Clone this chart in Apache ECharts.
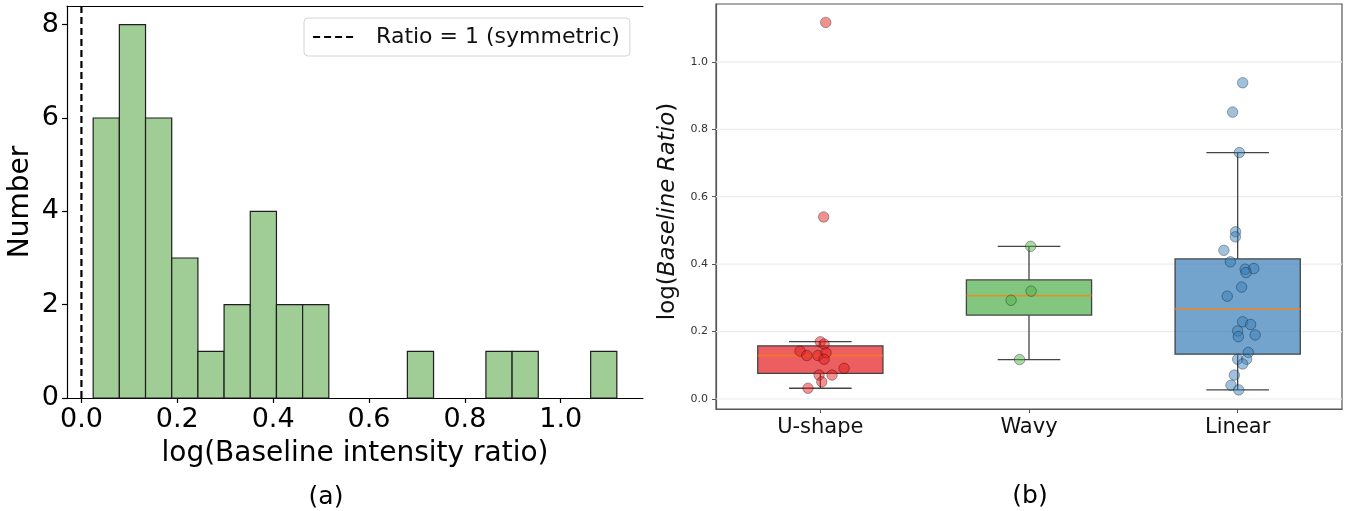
<!DOCTYPE html>
<html>
<head>
<meta charset="utf-8">
<script src="https://cdn.jsdelivr.net/npm/echarts@6/dist/echarts.min.js"></script>
<style>
  html, body { margin: 0; padding: 0; background: #fff; }
  #chart { width: 1348px; height: 511px; }
</style>
</head>
<body>
<div id="chart"></div>
<script>
// ---- Panel (a): histogram of log(Baseline intensity ratio) ----
const histCounts = [6, 8, 6, 3, 1, 2, 4, 2, 2, 0, 0, 0, 1, 0, 0, 1, 1, 0, 0, 1];
const histRange = [0.0245, 1.117];          // first and last bin edge
const histXTicks = [0, 0.2, 0.4, 0.6, 0.8, 1.0];
const histYTicks = [0, 2, 4, 6, 8];
const symmetricLog = 0;                      // log(1) reference line
const legendLabel = 'Ratio = 1 (symmetric)';

// ---- Panel (b): log(Baseline Ratio) per pattern group ----
const groups = ['U-shape', 'Wavy', 'Linear'];
const uShapeValues = [0.170, 0.163, 0.142, 0.129, 0.129, 0.137, 0.118, 0.091, 0.071, 0.071, 0.051, 0.032, 0.540, 1.117];
const uShapeJitter = [0.000, 0.018, -0.097, -0.065, -0.012, 0.027, 0.018, 0.114, -0.006, 0.056, 0.007, -0.059, 0.016, 0.026];
const wavyValues = [0.453, 0.320, 0.293, 0.117];
const wavyJitter = [0.008, 0.010, -0.086, -0.045];
const linearValues = [0.938, 0.851, 0.731, 0.496, 0.481, 0.441, 0.407, 0.385, 0.387, 0.375, 0.332, 0.305,
                      0.229, 0.221, 0.202, 0.185, 0.190, 0.138, 0.118, 0.118, 0.104, 0.071, 0.041, 0.027];
const linearJitter = [0.024, -0.024, 0.008, -0.010, -0.011, -0.066, -0.035, 0.036, 0.077, 0.040, 0.019, -0.050,
                      0.024, 0.062, 0.000, 0.003, 0.084, 0.051, 0.000, 0.043, 0.024, -0.016, -0.032, 0.005];
const boxYTicks = [0, 0.2, 0.4, 0.6, 0.8, 1.0];

const FONT = 'DejaVu Sans';
const groupValues = [uShapeValues, wavyValues, linearValues];
const groupJitter = [uShapeJitter, wavyJitter, linearJitter];
const boxFill = ['rgba(228,26,28,0.7)', 'rgba(77,175,74,0.7)', 'rgba(55,126,184,0.7)'];
const dotFill = ['rgba(228,26,28,0.6)', 'rgba(77,175,74,0.6)', 'rgba(55,126,184,0.6)'];

// linear-interpolated quantile on sorted data
function quantile(sorted, p) {
  const pos = (sorted.length - 1) * p;
  const lo = Math.floor(pos), hi = Math.ceil(pos);
  return sorted[lo] + (sorted[hi] - sorted[lo]) * (pos - lo);
}
// [q1, median, q3, lower whisker, upper whisker] with 1.5*IQR whiskers
function boxStats(values) {
  const s = values.slice().sort((a, b) => a - b);
  const q1 = quantile(s, 0.25), med = quantile(s, 0.5), q3 = quantile(s, 0.75);
  const iqr = q3 - q1;
  const lo = s.find(v => v >= q1 - 1.5 * iqr);
  const hi = s.filter(v => v <= q3 + 1.5 * iqr).pop();
  return [q1, med, q3, lo, hi];
}

const binWidth = (histRange[1] - histRange[0]) / histCounts.length;
const histBins = histCounts
  .map((c, i) => [histRange[0] + i * binWidth, histRange[0] + (i + 1) * binWidth, c])
  .filter(b => b[2] > 0);

const boxRows = groupValues.map((vals, gi) => [gi].concat(boxStats(vals)));

const chart = echarts.init(document.getElementById('chart'));

const option = {
  animation: false,
  backgroundColor: '#fff',
  textStyle: { fontFamily: FONT },
  grid: [
    { left: 67, right: 705, top: 6, bottom: 113 },
    { left: 716, right: 6, top: 4, bottom: 102, show: true, borderColor: '#555', borderWidth: 1.2 }
  ],
  legend: {
    left: 304, top: 18,
    padding: [8, 10, 8, 8],
    borderColor: '#d4d4d4', borderWidth: 1, borderRadius: 4,
    backgroundColor: '#fff',
    itemWidth: 44, itemHeight: 14,
    itemStyle: { opacity: 0 },
    lineStyle: { color: '#000', width: 2.2, type: [7, 4] },
    textStyle: { fontFamily: FONT, fontSize: 22, color: '#111', padding: [0, 0, 0, 14] },
    data: [legendLabel]
  },
  xAxis: [
    {
      gridIndex: 0, type: 'value', min: -0.0301, max: 1.1716,
      axisLine: { onZero: false, lineStyle: { color: '#000', width: 1.2 } },
      axisTick: { customValues: histXTicks, length: 5, lineStyle: { color: '#000', width: 1.2 } },
      axisLabel: { customValues: histXTicks, formatter: v => v.toFixed(1), fontSize: 27, color: '#000', margin: 8, fontFamily: FONT },
      splitLine: { show: false },
      name: 'log(Baseline intensity ratio)', nameLocation: 'middle', nameGap: 42,
      nameTextStyle: { fontSize: 28, color: '#000', fontFamily: FONT }
    },
    {
      gridIndex: 0, type: 'value', position: 'top', min: -0.0301, max: 1.1716,
      axisLine: { show: true, onZero: false, lineStyle: { color: '#000', width: 1.2 } },
      axisTick: { show: false }, axisLabel: { show: false }, splitLine: { show: false }
    },
    {
      gridIndex: 1, type: 'value', min: -0.5, max: 2.5,
      axisLine: { onZero: false, lineStyle: { color: '#555', width: 1.2 } },
      axisTick: { customValues: [0, 1, 2], length: 4, lineStyle: { color: '#555' } },
      axisLabel: { customValues: [0, 1, 2], formatter: v => groups[Math.round(v)], fontSize: 21, color: '#111', margin: 8, fontFamily: FONT },
      splitLine: { show: false }
    }
  ],
  yAxis: [
    {
      gridIndex: 0, type: 'value', min: 0, max: 8.4,
      axisLine: { show: true, onZero: false, lineStyle: { color: '#000', width: 1.2 } },
      axisTick: { show: true, customValues: histYTicks, length: 5, lineStyle: { color: '#000', width: 1.2 } },
      axisLabel: { customValues: histYTicks, fontSize: 27, color: '#000', margin: 8, fontFamily: FONT },
      splitLine: { show: false },
      name: 'Number', nameLocation: 'middle', nameGap: 32, nameRotate: 90,
      nameTextStyle: { fontSize: 28, color: '#000', fontFamily: FONT }
    },
    {
      gridIndex: 1, type: 'value', min: -0.0296, max: 1.1716,
      axisLine: { show: true, onZero: false, lineStyle: { color: '#555', width: 1.2 } },
      axisTick: { show: true, customValues: boxYTicks, length: 4, lineStyle: { color: '#555' } },
      axisLabel: { customValues: boxYTicks, formatter: v => v.toFixed(1), fontSize: 11, color: '#333', margin: 8, fontFamily: FONT },
      splitLine: { show: false },
      name: '{n|log(}{i|Baseline Ratio}{n|)}', nameLocation: 'middle', nameGap: 36, nameRotate: 90,
      nameTextStyle: {
        padding: [0, 10, 0, 0],
        rich: {
          n: { fontSize: 23, color: '#111', fontFamily: FONT },
          i: { fontSize: 23, color: '#111', fontFamily: FONT, fontStyle: 'italic' }
        }
      }
    }
  ],
  series: [
    {
      type: 'custom', name: 'hist', xAxisIndex: 0, yAxisIndex: 0, silent: true,
      data: histBins, encode: { x: [0, 1], y: 2 },
      renderItem(params, api) {
        const a = api.coord([api.value(0), api.value(2)]);
        const b = api.coord([api.value(1), 0]);
        return {
          type: 'rect',
          shape: { x: a[0], y: a[1], width: b[0] - a[0], height: b[1] - a[1] },
          style: { fill: '#a0cd95', stroke: '#1e1e1e', lineWidth: 1.2 }
        };
      }
    },
    {
      type: 'line', name: legendLabel, xAxisIndex: 0, yAxisIndex: 0, silent: true,
      data: [[symmetricLog, 0], [symmetricLog, 8.4]],
      symbol: 'none', z: 5,
      lineStyle: { color: '#000', width: 2.2, type: [7, 4] },
      itemStyle: { color: '#000' }
    },
    {
      type: 'custom', name: 'grid-lines', xAxisIndex: 2, yAxisIndex: 1, silent: true, z: 1,
      data: boxYTicks.map(v => [0, v]), encode: { x: 0, y: 1 },
      renderItem(params, api) {
        const y = api.coord([0, api.value(1)])[1];
        const x0 = api.coord([-0.5, 0])[0], x1 = api.coord([2.5, 0])[0];
        return { type: 'line', shape: { x1: x0, y1: y, x2: x1, y2: y }, style: { stroke: '#ececec', lineWidth: 1.2 } };
      }
    },
    {
      type: 'custom', name: 'boxes', xAxisIndex: 2, yAxisIndex: 1, silent: true, z: 2,
      data: boxRows, encode: { x: 0, y: [1, 2, 3, 4, 5] },
      renderItem(params, api) {
        const gi = api.value(0);
        const cx = api.coord([gi, 0])[0];
        const half = api.size([0.3, 0])[0];
        const cap = half / 2;
        const y = i => api.coord([gi, api.value(i)])[1];
        const yq1 = y(1), ymed = y(2), yq3 = y(3), ylo = y(4), yhi = y(5);
        const edge = { stroke: '#444', lineWidth: 1.3 };
        return {
          type: 'group',
          children: [
            { type: 'line', shape: { x1: cx, y1: yq3, x2: cx, y2: yhi }, style: edge },
            { type: 'line', shape: { x1: cx, y1: yq1, x2: cx, y2: ylo }, style: edge },
            { type: 'line', shape: { x1: cx - cap, y1: yhi, x2: cx + cap, y2: yhi }, style: edge },
            { type: 'line', shape: { x1: cx - cap, y1: ylo, x2: cx + cap, y2: ylo }, style: edge },
            { type: 'rect', shape: { x: cx - half, y: yq3, width: 2 * half, height: yq1 - yq3 },
              style: { fill: boxFill[gi], stroke: '#444', lineWidth: 1.3 } },
            { type: 'line', shape: { x1: cx - half, y1: ymed, x2: cx + half, y2: ymed },
              style: { stroke: 'rgba(255,127,14,0.7)', lineWidth: 1.8 } }
          ]
        };
      }
    }
  ].concat(groups.map((g, gi) => ({
    type: 'scatter', name: g, xAxisIndex: 2, yAxisIndex: 1, silent: true, z: 4,
    symbolSize: 10.5,
    data: groupValues[gi].map((v, k) => [gi + groupJitter[gi][k], v]),
    itemStyle: { color: dotFill[gi], borderColor: 'rgba(0,0,0,0.5)', borderWidth: 0.8 }
  }))),
  graphic: [
    { type: 'text', x: 326, y: 497, style: { text: '(a)', fontSize: 25, fill: '#000', fontFamily: FONT, align: 'center', verticalAlign: 'middle' } },
    { type: 'text', x: 1030, y: 496, style: { text: '(b)', fontSize: 25, fill: '#000', fontFamily: FONT, align: 'center', verticalAlign: 'middle' } }
  ]
};

chart.setOption(option);
</script>
</body>
</html>
